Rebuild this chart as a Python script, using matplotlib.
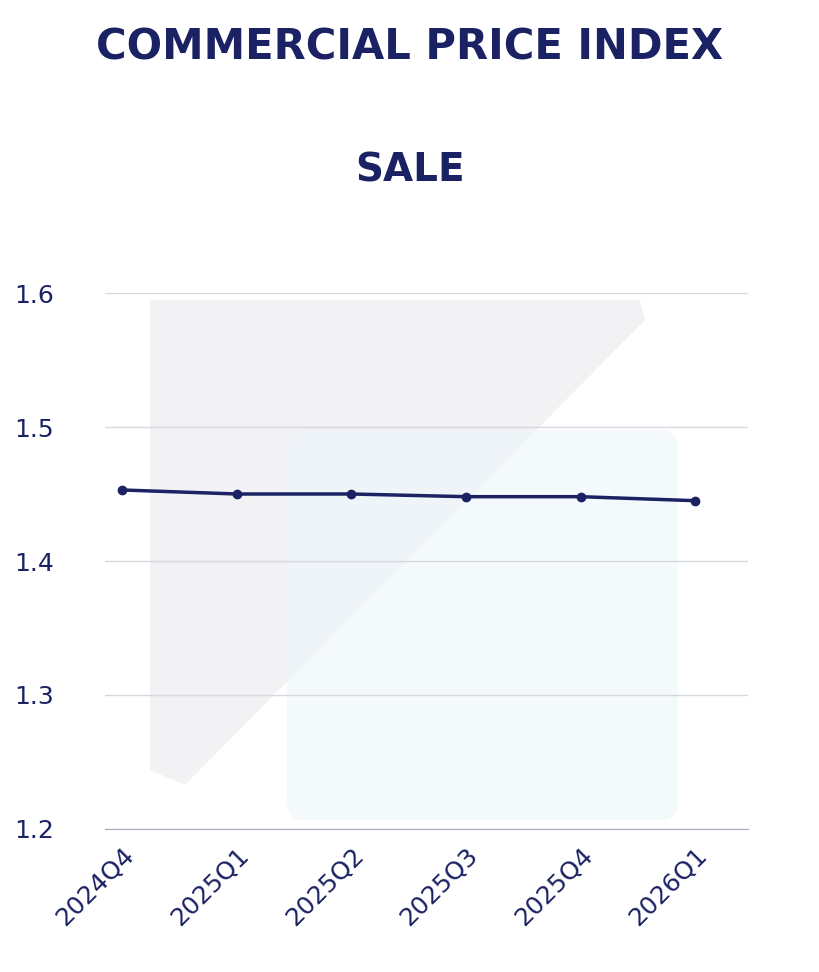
import matplotlib
matplotlib.use("Agg")
import matplotlib.pyplot as plt
from matplotlib.patches import FancyBboxPatch, Polygon

quarters = ["2024Q4", "2025Q1", "2025Q2", "2025Q3", "2025Q4", "2026Q1"]
index_values = [1.453, 1.450, 1.450, 1.448, 1.448, 1.445]
y_ticks = [1.2, 1.3, 1.4, 1.5, 1.6]

NAVY = "#1b2264"

fig = plt.figure(figsize=(8.2, 9.72), dpi=100)
W, H = 820, 972

def fx(px):
    return px / W

def fy(py):
    return 1 - py / H

# watermark shapes behind the plot
gray = Polygon(
    [(fx(150), fy(300)), (fx(640), fy(300)), (fx(645), fy(320)),
     (fx(185), fy(785)), (fx(150), fy(770))],
    closed=True, transform=fig.transFigure, facecolor="#f2f2f4", edgecolor="none", zorder=0,
)
fig.patches.append(gray)
blue = FancyBboxPatch(
    (fx(287), fy(820)), fx(678) - fx(287), fy(430) - fy(820),
    boxstyle="round,pad=0,rounding_size=0.02", transform=fig.transFigure,
    facecolor="#eef6fb", edgecolor="none", alpha=0.6, zorder=0,
)
fig.patches.append(blue)

ax = fig.add_axes([fx(105), fy(829), fx(748) - fx(105), fy(293) - fy(829)])
ax.set_zorder(2)
ax.patch.set_alpha(0)
x = list(range(len(quarters)))
ax.plot(x, index_values, color=NAVY, linewidth=2.5, marker="o", markersize=6, zorder=3)

ax.set_ylim(1.2, 1.6)
ax.set_xlim(-0.15, 5.46)
ax.set_yticks(y_ticks)
ax.set_yticklabels([f"{v:.1f}" for v in y_ticks])
ax.set_xticks(x)
ax.set_xticklabels(quarters, rotation=45, ha="right", rotation_mode="anchor")
ax.tick_params(axis="both", length=0, colors=NAVY, labelsize=18)
ax.tick_params(axis="y", pad=65)
ax.tick_params(axis="x", pad=10)
for lbl in ax.get_yticklabels():
    lbl.set_horizontalalignment("left")
ax.grid(axis="y", color="#d8d8e2", linewidth=1)
ax.set_axisbelow(True)
for side in ["top", "right", "left"]:
    ax.spines[side].set_visible(False)
ax.spines["bottom"].set_color("#a9a9c4")

fig.text(0.5, fy(47), "COMMERCIAL PRICE INDEX", ha="center", va="center",
         fontsize=30, fontweight="bold", color=NAVY)
fig.text(0.5, fy(170), "SALE", ha="center", va="center",
         fontsize=28, fontweight="bold", color=NAVY)

fig.savefig("out.png", dpi=100)
